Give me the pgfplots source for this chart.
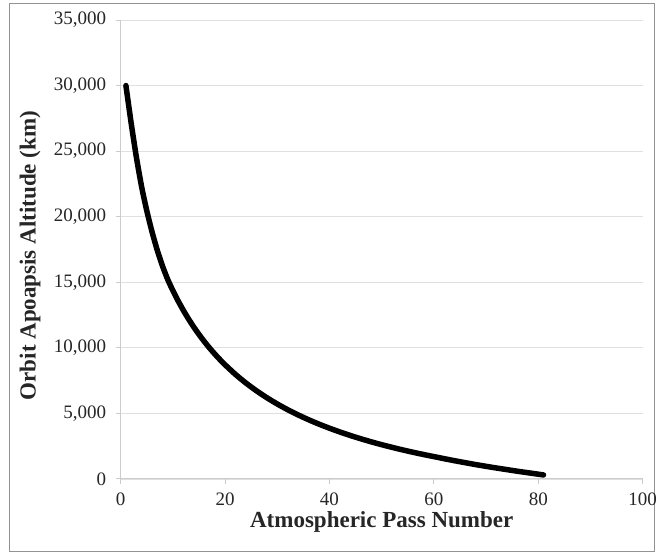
\documentclass[border=0pt]{standalone}
\usepackage{fontspec}
\setmainfont{Liberation Serif}
\usepackage{pgfplots}
\pgfplotsset{compat=1.18}
\begin{document}
\begin{tikzpicture}
\useasboundingbox (0pt,0pt) rectangle (657pt,555pt);
\draw[draw=gray!85, line width=1pt] (9.5pt,3.5pt) rectangle (654.5pt,551pt);
\begin{axis}[
  at={(120.7pt,76pt)}, anchor=south west,
  width=522pt, height=459pt, scale only axis,
  xmin=0, xmax=100, ymin=0, ymax=35000,
  xtick={0,20,...,100}, ytick={0,5000,...,35000},
  axis x line*=bottom, axis y line*=left,
  ymajorgrids, xmajorgrids=false,
  major grid style={draw=black!12, line width=0.8pt},
  axis line style={draw=black!20, line width=1pt},
  tick style={draw=black!20, line width=1pt},
  major tick length=5pt, tick align=outside,
  ticklabel style={font=\fontsize{19}{22}\selectfont, text=black!85},
  /pgf/number format/assume math mode=true,
  /pgf/number format/1000 sep={,},
  scaled y ticks=false,
  yticklabel style={xshift=-6pt},
  xticklabel style={yshift=-5pt},
  xlabel={Atmospheric Pass Number},
  ylabel={Orbit Apoapsis Altitude (km)},
  label style={font=\bfseries\fontsize{23}{27}\selectfont, text=black!85},
  xlabel style={at={(axis description cs:0.5,0)}, anchor=base, yshift=-49pt},
  ylabel style={at={(axis description cs:0,0.5)}, anchor=center, yshift=90.7pt, xshift=-6pt},
  clip=false,
]
\addplot[black, line width=5.5pt, line cap=round, line join=round, smooth, tension=0.4] table {
x y
1 30000
2 27150
3 24550
4 22300
5 20450
6 18850
7 17450
8 16250
9 15220
10 14365
11 13582
12 12863
13 12200
14 11587
15 11020
16 10492
17 10000
18 9541
19 9111
20 8707
22 7971
24 7315
26 6728
28 6198
30 5719
32 5283
34 4885
36 4519
38 4182
40 3872
42 3584
44 3316
46 3067
48 2834
50 2616
52 2412
54 2220
56 2039
58 1869
60 1708
62 1546
64 1391
66 1244
68 1099
70 965
72 837
74 714
76 592
78 479
80 366
81 308
};
\end{axis}
\end{tikzpicture}
\end{document}
